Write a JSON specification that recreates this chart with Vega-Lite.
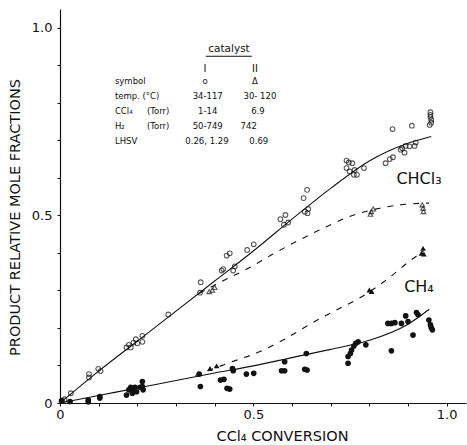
{
  "$schema": "https://vega.github.io/schema/vega-lite/v6.json",
  "width": 406,
  "height": 394,
  "autosize": {"type": "none"},
  "padding": {"left": 60, "top": 9, "right": 1, "bottom": 42},
  "background": "white",
  "config": {
    "view": {"stroke": null},
    "font": "DejaVu Sans",
    "axis": {
      "grid": false,
      "domainColor": "#111",
      "domainWidth": 1.2,
      "tickColor": "#111",
      "tickSize": 3,
      "labelColor": "#111",
      "titleColor": "#111",
      "labelFont": "DejaVu Sans",
      "titleFont": "DejaVu Sans",
      "labelFontSize": 13,
      "titleFontSize": 14.5,
      "titleFontWeight": "normal"
    }
  },
  "datasets": {
    "points": [
      {"x": 0.005, "y": 0.006, "series": "I CHCl3"}, {"x": 0.012, "y": 0.01, "series": "I CHCl3"}, {"x": 0.028, "y": 0.026, "series": "I CHCl3"},
      {"x": 0.075, "y": 0.077, "series": "I CHCl3"}, {"x": 0.075, "y": 0.068, "series": "I CHCl3"}, {"x": 0.099, "y": 0.091, "series": "I CHCl3"},
      {"x": 0.105, "y": 0.085, "series": "I CHCl3"}, {"x": 0.172, "y": 0.148, "series": "I CHCl3"}, {"x": 0.178, "y": 0.155, "series": "I CHCl3"},
      {"x": 0.183, "y": 0.148, "series": "I CHCl3"}, {"x": 0.19, "y": 0.161, "series": "I CHCl3"}, {"x": 0.196, "y": 0.17, "series": "I CHCl3"},
      {"x": 0.2, "y": 0.159, "series": "I CHCl3"}, {"x": 0.213, "y": 0.179, "series": "I CHCl3"}, {"x": 0.213, "y": 0.163, "series": "I CHCl3"},
      {"x": 0.28, "y": 0.236, "series": "I CHCl3"}, {"x": 0.362, "y": 0.294, "series": "I CHCl3"}, {"x": 0.364, "y": 0.322, "series": "I CHCl3"},
      {"x": 0.418, "y": 0.353, "series": "I CHCl3"}, {"x": 0.422, "y": 0.357, "series": "I CHCl3"}, {"x": 0.431, "y": 0.393, "series": "I CHCl3"},
      {"x": 0.439, "y": 0.399, "series": "I CHCl3"}, {"x": 0.448, "y": 0.353, "series": "I CHCl3"}, {"x": 0.452, "y": 0.364, "series": "I CHCl3"},
      {"x": 0.484, "y": 0.408, "series": "I CHCl3"}, {"x": 0.501, "y": 0.423, "series": "I CHCl3"}, {"x": 0.57, "y": 0.49, "series": "I CHCl3"},
      {"x": 0.583, "y": 0.501, "series": "I CHCl3"}, {"x": 0.579, "y": 0.475, "series": "I CHCl3"}, {"x": 0.59, "y": 0.481, "series": "I CHCl3"},
      {"x": 0.63, "y": 0.546, "series": "I CHCl3"}, {"x": 0.639, "y": 0.568, "series": "I CHCl3"}, {"x": 0.633, "y": 0.51, "series": "I CHCl3"},
      {"x": 0.64, "y": 0.506, "series": "I CHCl3"}, {"x": 0.642, "y": 0.517, "series": "I CHCl3"}, {"x": 0.741, "y": 0.646, "series": "I CHCl3"},
      {"x": 0.747, "y": 0.641, "series": "I CHCl3"}, {"x": 0.756, "y": 0.639, "series": "I CHCl3"}, {"x": 0.741, "y": 0.626, "series": "I CHCl3"},
      {"x": 0.749, "y": 0.617, "series": "I CHCl3"}, {"x": 0.762, "y": 0.621, "series": "I CHCl3"}, {"x": 0.76, "y": 0.608, "series": "I CHCl3"},
      {"x": 0.768, "y": 0.608, "series": "I CHCl3"}, {"x": 0.786, "y": 0.626, "series": "I CHCl3"}, {"x": 0.842, "y": 0.639, "series": "I CHCl3"},
      {"x": 0.853, "y": 0.65, "series": "I CHCl3"}, {"x": 0.861, "y": 0.655, "series": "I CHCl3"}, {"x": 0.86, "y": 0.73, "series": "I CHCl3"},
      {"x": 0.91, "y": 0.739, "series": "I CHCl3"}, {"x": 0.881, "y": 0.675, "series": "I CHCl3"}, {"x": 0.891, "y": 0.667, "series": "I CHCl3"},
      {"x": 0.894, "y": 0.685, "series": "I CHCl3"}, {"x": 0.904, "y": 0.684, "series": "I CHCl3"}, {"x": 0.917, "y": 0.685, "series": "I CHCl3"},
      {"x": 0.92, "y": 0.694, "series": "I CHCl3"}, {"x": 0.885, "y": 0.679, "series": "I CHCl3"}, {"x": 0.958, "y": 0.775, "series": "I CHCl3"},
      {"x": 0.958, "y": 0.768, "series": "I CHCl3"}, {"x": 0.958, "y": 0.762, "series": "I CHCl3"}, {"x": 0.96, "y": 0.755, "series": "I CHCl3"},
      {"x": 0.956, "y": 0.741, "series": "I CHCl3"}, {"x": 0.96, "y": 0.747, "series": "I CHCl3"},

      {"x": 0.004, "y": 0.006, "series": "I CH4"}, {"x": 0.026, "y": 0.004, "series": "I CH4"}, {"x": 0.073, "y": 0.008, "series": "I CH4"},
      {"x": 0.073, "y": 0.003, "series": "I CH4"}, {"x": 0.103, "y": 0.017, "series": "I CH4"}, {"x": 0.103, "y": 0.013, "series": "I CH4"},
      {"x": 0.172, "y": 0.021, "series": "I CH4"}, {"x": 0.178, "y": 0.035, "series": "I CH4"}, {"x": 0.183, "y": 0.042, "series": "I CH4"},
      {"x": 0.19, "y": 0.037, "series": "I CH4"}, {"x": 0.194, "y": 0.042, "series": "I CH4"}, {"x": 0.198, "y": 0.03, "series": "I CH4"},
      {"x": 0.187, "y": 0.026, "series": "I CH4"}, {"x": 0.213, "y": 0.057, "series": "I CH4"}, {"x": 0.213, "y": 0.044, "series": "I CH4"},
      {"x": 0.215, "y": 0.035, "series": "I CH4"}, {"x": 0.207, "y": 0.042, "series": "I CH4"}, {"x": 0.36, "y": 0.077, "series": "I CH4"},
      {"x": 0.363, "y": 0.044, "series": "I CH4"}, {"x": 0.415, "y": 0.061, "series": "I CH4"}, {"x": 0.424, "y": 0.063, "series": "I CH4"},
      {"x": 0.432, "y": 0.039, "series": "I CH4"}, {"x": 0.439, "y": 0.037, "series": "I CH4"}, {"x": 0.446, "y": 0.092, "series": "I CH4"},
      {"x": 0.448, "y": 0.086, "series": "I CH4"}, {"x": 0.482, "y": 0.077, "series": "I CH4"}, {"x": 0.501, "y": 0.079, "series": "I CH4"},
      {"x": 0.573, "y": 0.086, "series": "I CH4"}, {"x": 0.581, "y": 0.086, "series": "I CH4"}, {"x": 0.581, "y": 0.11, "series": "I CH4"},
      {"x": 0.637, "y": 0.132, "series": "I CH4"}, {"x": 0.639, "y": 0.088, "series": "I CH4"}, {"x": 0.633, "y": 0.09, "series": "I CH4"},
      {"x": 0.745, "y": 0.106, "series": "I CH4"}, {"x": 0.745, "y": 0.124, "series": "I CH4"}, {"x": 0.751, "y": 0.132, "series": "I CH4"},
      {"x": 0.754, "y": 0.141, "series": "I CH4"}, {"x": 0.76, "y": 0.152, "series": "I CH4"}, {"x": 0.765, "y": 0.159, "series": "I CH4"},
      {"x": 0.771, "y": 0.163, "series": "I CH4"}, {"x": 0.791, "y": 0.155, "series": "I CH4"}, {"x": 0.857, "y": 0.139, "series": "I CH4"},
      {"x": 0.848, "y": 0.212, "series": "I CH4"}, {"x": 0.857, "y": 0.212, "series": "I CH4"}, {"x": 0.866, "y": 0.214, "series": "I CH4"},
      {"x": 0.883, "y": 0.212, "series": "I CH4"}, {"x": 0.894, "y": 0.232, "series": "I CH4"}, {"x": 0.9, "y": 0.217, "series": "I CH4"},
      {"x": 0.913, "y": 0.181, "series": "I CH4"}, {"x": 0.922, "y": 0.241, "series": "I CH4"}, {"x": 0.926, "y": 0.235, "series": "I CH4"},
      {"x": 0.954, "y": 0.221, "series": "I CH4"}, {"x": 0.958, "y": 0.208, "series": "I CH4"}, {"x": 0.963, "y": 0.195, "series": "I CH4"},
      {"x": 0.96, "y": 0.201, "series": "I CH4"},

      {"x": 0.386, "y": 0.297, "series": "II CHCl3"}, {"x": 0.394, "y": 0.301, "series": "II CHCl3"}, {"x": 0.4, "y": 0.308, "series": "II CHCl3"},
      {"x": 0.803, "y": 0.503, "series": "II CHCl3"}, {"x": 0.805, "y": 0.51, "series": "II CHCl3"}, {"x": 0.81, "y": 0.517, "series": "II CHCl3"},
      {"x": 0.937, "y": 0.528, "series": "II CHCl3"}, {"x": 0.939, "y": 0.519, "series": "II CHCl3"}, {"x": 0.94, "y": 0.51, "series": "II CHCl3"},

      {"x": 0.388, "y": 0.092, "series": "II CH4"}, {"x": 0.405, "y": 0.099, "series": "II CH4"}, {"x": 0.8, "y": 0.301, "series": "II CH4"},
      {"x": 0.806, "y": 0.297, "series": "II CH4"}, {"x": 0.935, "y": 0.399, "series": "II CH4"}, {"x": 0.939, "y": 0.412, "series": "II CH4"},
      {"x": 0.941, "y": 0.397, "series": "II CH4"}
    ],
    "solid": [
      {"x": 0, "y": 0, "curve": "I CHCl3"}, {"x": 0.1, "y": 0.085, "curve": "I CHCl3"}, {"x": 0.2, "y": 0.165, "curve": "I CHCl3"},
      {"x": 0.3, "y": 0.245, "curve": "I CHCl3"}, {"x": 0.4, "y": 0.325, "curve": "I CHCl3"}, {"x": 0.5, "y": 0.405, "curve": "I CHCl3"},
      {"x": 0.6, "y": 0.49, "curve": "I CHCl3"}, {"x": 0.7, "y": 0.572, "curve": "I CHCl3"}, {"x": 0.8, "y": 0.645, "curve": "I CHCl3"},
      {"x": 0.9, "y": 0.692, "curve": "I CHCl3"}, {"x": 0.96, "y": 0.71, "curve": "I CHCl3"},
      {"x": 0, "y": 0, "curve": "I CH4"}, {"x": 0.1, "y": 0.02, "curve": "I CH4"}, {"x": 0.2, "y": 0.04, "curve": "I CH4"},
      {"x": 0.3, "y": 0.06, "curve": "I CH4"}, {"x": 0.4, "y": 0.08, "curve": "I CH4"}, {"x": 0.5, "y": 0.099, "curve": "I CH4"},
      {"x": 0.6, "y": 0.121, "curve": "I CH4"}, {"x": 0.7, "y": 0.143, "curve": "I CH4"}, {"x": 0.8, "y": 0.167, "curve": "I CH4"},
      {"x": 0.9, "y": 0.21, "curve": "I CH4"}, {"x": 0.955, "y": 0.25, "curve": "I CH4"}
    ],
    "dashed": [
      {"x": 0.36, "y": 0.292, "curve": "II CHCl3"}, {"x": 0.413, "y": 0.321, "curve": "II CHCl3"},
      {"x": 0.487, "y": 0.359, "curve": "II CHCl3"}, {"x": 0.551, "y": 0.397, "curve": "II CHCl3"}, {"x": 0.62, "y": 0.435, "curve": "II CHCl3"},
      {"x": 0.689, "y": 0.47, "curve": "II CHCl3"}, {"x": 0.749, "y": 0.497, "curve": "II CHCl3"}, {"x": 0.827, "y": 0.519, "curve": "II CHCl3"},
      {"x": 0.879, "y": 0.528, "curve": "II CHCl3"}, {"x": 0.93, "y": 0.532, "curve": "II CHCl3"}, {"x": 0.955, "y": 0.533, "curve": "II CHCl3"},
      {"x": 0.35, "y": 0.073, "curve": "II CH4"},
      {"x": 0.44, "y": 0.108, "curve": "II CH4"}, {"x": 0.517, "y": 0.137, "curve": "II CH4"}, {"x": 0.581, "y": 0.17, "curve": "II CH4"},
      {"x": 0.655, "y": 0.215, "curve": "II CH4"}, {"x": 0.715, "y": 0.248, "curve": "II CH4"}, {"x": 0.775, "y": 0.28, "curve": "II CH4"},
      {"x": 0.844, "y": 0.328, "curve": "II CH4"}, {"x": 0.904, "y": 0.378, "curve": "II CH4"}, {"x": 0.94, "y": 0.405, "curve": "II CH4"}
    ],
    "curveLabels": [
      {"t": "CHCl₃", "x": 0.87, "y": 0.597},
      {"t": "CH₄", "x": 0.89, "y": 0.31}
    ],
    "rowLabels": [
      {"t": "symbol", "x": 0.142, "y": 0.857},
      {"t": "temp. (°C)", "x": 0.142, "y": 0.817},
      {"t": "CCl₄", "x": 0.142, "y": 0.777},
      {"t": "(Torr)", "x": 0.225, "y": 0.777},
      {"t": "H₂", "x": 0.142, "y": 0.737},
      {"t": "(Torr)", "x": 0.225, "y": 0.737},
      {"t": "LHSV", "x": 0.142, "y": 0.697}
    ],
    "cells": [
      {"t": "o", "x": 0.375, "y": 0.857}, {"t": "Δ", "x": 0.504, "y": 0.857},
      {"t": "34-117", "x": 0.382, "y": 0.817}, {"t": "30- 120", "x": 0.517, "y": 0.817},
      {"t": "1-14", "x": 0.382, "y": 0.777}, {"t": "6.9", "x": 0.512, "y": 0.777},
      {"t": "50-749", "x": 0.382, "y": 0.737}, {"t": "742", "x": 0.488, "y": 0.737},
      {"t": "0.26, 1.29", "x": 0.38, "y": 0.697}, {"t": "0.69", "x": 0.514, "y": 0.697}
    ],
    "heads": [
      {"t": "I", "x": 0.375, "y": 0.891}, {"t": "II", "x": 0.504, "y": 0.891}
    ],
    "title": [
      {"t": "catalyst", "x": 0.437, "y": 0.943, "x2": 0.496, "x1": 0.377, "yu": 0.924}
    ]
  },
  "encoding": {
    "x": {
      "field": "x", "type": "quantitative",
      "scale": {"domain": [0, 1.05], "nice": false, "zero": false},
      "axis": {
        "values": [0, 0.1, 0.2, 0.3, 0.4, 0.5, 0.6, 0.7, 0.8, 0.9, 1.0],
        "labelExpr": "datum.value == 0 ? '0' : (abs(datum.value - 0.5) < 0.001 ? '0.5' : (abs(datum.value - 1) < 0.001 ? '1.0' : ''))",
        "labelPadding": 2,
        "labelFlush": false,
        "title": "CCl₄   CONVERSION",
        "titleX": 222, "titleY": 33, "titleAlign": "center", "titleBaseline": "middle"
      }
    },
    "y": {
      "field": "y", "type": "quantitative",
      "scale": {"domain": [0, 1.05], "nice": false, "zero": false},
      "axis": {
        "values": [0, 0.1, 0.2, 0.3, 0.4, 0.5, 0.6, 0.7, 0.8, 0.9, 1.0],
        "labelExpr": "datum.value == 0 ? '0' : (abs(datum.value - 0.5) < 0.001 ? '0.5' : (abs(datum.value - 1) < 0.001 ? '1.0' : ''))",
        "labelPadding": 5,
        "labelFlush": false,
        "title": "PRODUCT   RELATIVE   MOLE   FRACTIONS",
        "titleX": -45, "titleY": 208, "titleAngle": -90, "titleAlign": "center", "titleBaseline": "middle"
      }
    }
  },
  "layer": [
    {
      "data": {"name": "solid"},
      "mark": {"type": "line", "interpolate": "monotone", "color": "#111", "strokeWidth": 1.1},
      "encoding": {"detail": {"field": "curve"}}
    },
    {
      "data": {"name": "dashed"},
      "mark": {"type": "line", "interpolate": "monotone", "color": "#111", "strokeWidth": 1.1, "strokeDash": [6, 7]},
      "encoding": {"detail": {"field": "curve"}}
    },
    {
      "data": {"name": "points"},
      "transform": [{"filter": "datum.series == 'I CHCl3'"}],
      "mark": {"type": "point", "shape": "circle", "filled": false, "stroke": "#111", "strokeWidth": 1.1, "size": 22}
    },
    {
      "data": {"name": "points"},
      "transform": [{"filter": "datum.series == 'I CH4'"}],
      "mark": {"type": "point", "shape": "circle", "filled": true, "fill": "#111", "opacity": 1, "size": 32}
    },
    {
      "data": {"name": "points"},
      "transform": [{"filter": "datum.series == 'II CHCl3'"}],
      "mark": {"type": "point", "shape": "triangle-up", "filled": false, "stroke": "#111", "strokeWidth": 1.1, "size": 22}
    },
    {
      "data": {"name": "points"},
      "transform": [{"filter": "datum.series == 'II CH4'"}],
      "mark": {"type": "point", "shape": "triangle-up", "filled": true, "fill": "#111", "opacity": 1, "size": 32}
    },
    {
      "data": {"name": "curveLabels"},
      "mark": {"type": "text", "align": "left", "baseline": "middle", "fontSize": 16, "color": "#111"},
      "encoding": {"text": {"field": "t"}}
    },
    {
      "data": {"name": "rowLabels"},
      "mark": {"type": "text", "align": "left", "baseline": "middle", "fontSize": 8.5, "color": "#111"},
      "encoding": {"text": {"field": "t"}}
    },
    {
      "data": {"name": "cells"},
      "mark": {"type": "text", "align": "center", "baseline": "middle", "fontSize": 8.5, "color": "#111"},
      "encoding": {"text": {"field": "t"}}
    },
    {
      "data": {"name": "heads"},
      "mark": {"type": "text", "align": "center", "baseline": "middle", "fontSize": 10, "color": "#111"},
      "encoding": {"text": {"field": "t"}}
    },
    {
      "data": {"name": "title"},
      "mark": {"type": "text", "align": "center", "baseline": "middle", "fontSize": 10.5, "color": "#111"},
      "encoding": {"text": {"field": "t"}}
    },
    {
      "data": {"name": "title"},
      "mark": {"type": "rule", "color": "#111", "strokeWidth": 1},
      "encoding": {
        "x": {"field": "x1", "type": "quantitative"},
        "x2": {"field": "x2"},
        "y": {"field": "yu", "type": "quantitative"}
      }
    }
  ]
}
